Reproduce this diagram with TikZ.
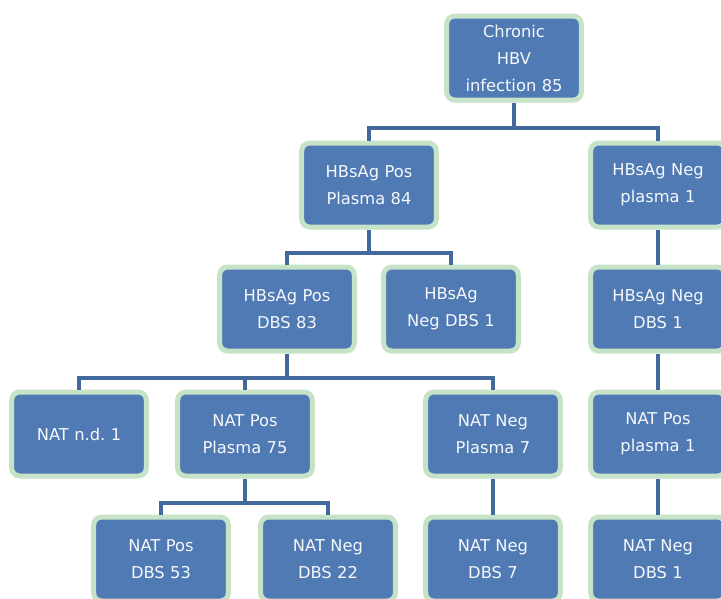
\documentclass[tikz,border=0pt]{standalone}
\usepackage{fontspec}
\setmainfont{DejaVu Sans}
\frenchspacing
\definecolor{boxblue}{HTML}{4F7AB3}
\definecolor{boxgreen}{HTML}{C6E3C8}
\definecolor{wireblue}{HTML}{41699C}
\begin{document}
\begin{tikzpicture}[
  x=1pt, y=-1pt,
  box/.style={
    draw=boxgreen,
    line width=5pt,
    fill=boxblue,
    rounded corners=8pt,
    minimum width=133pt,
    minimum height=84pt,
    text width=128pt,
    align=center,
    text=white!95!boxblue,
    font=\fontsize{16.3}{27}\selectfont
  },
  wire/.style={
    draw=wireblue,
    line width=4pt
  }
]%
\useasboundingbox (0,0) rectangle (721,598);
% level 0
\node [box] (root) at (514,58) {Chronic\\HBV\\infection 85};
% level 1
\node [box] (pos_plasma) at (369,185) {HBsAg Pos\\Plasma 84};
\node [box] (neg_plasma) at (658,185) {HBsAg Neg\\plasma 1};
% level 2
\node [box] (pos_dbs) at (287,309) {HBsAg Pos\\DBS 83};
\node [box] (neg_dbs) at (451,309) {HBsAg\\Neg DBS 1};
\node [box] (neg_dbs_r) at (658,309) {HBsAg Neg\\DBS 1};
% level 3
\node [box] (nat_nd) at (79,434) {NAT n.d. 1};
\node [box] (nat_pos) at (245,434) {NAT Pos\\Plasma 75};
\node [box] (nat_neg) at (493,434) {NAT Neg\\Plasma 7};
\node [box] (nat_pos_r) at (658,434) {NAT Pos\\plasma 1};
% level 4
\node [box] (dbs_pos) at (161,559) {NAT Pos\\DBS 53};
\node [box] (dbs_neg) at (328,559) {NAT Neg\\DBS 22};
\node [box] (dbs_neg_m) at (493,559) {NAT Neg\\DBS 7};
\node [box] (dbs_neg_r) at (658,559) {NAT Neg\\DBS 1};
% connectors
\coordinate (j_root) at (514,128);
\coordinate (j_pos) at (369,253);
\coordinate (j_dbs) at (287,378);
\coordinate (j_nat) at (245,503);
\draw [wire] (root.south) -- (j_root) -| (pos_plasma.north);
\draw [wire] (j_root) -| (neg_plasma.north);
\draw [wire] (pos_plasma.south) -- (j_pos) -| (pos_dbs.north);
\draw [wire] (j_pos) -| (neg_dbs.north);
\draw [wire] (pos_dbs.south) -- (j_dbs) -| (nat_nd.north);
\draw [wire] (j_dbs) -| (nat_pos.north);
\draw [wire] (j_dbs) -| (nat_neg.north);
\draw [wire] (nat_pos.south) -- (j_nat) -| (dbs_pos.north);
\draw [wire] (j_nat) -| (dbs_neg.north);
\draw [wire] (nat_neg.south) -- (dbs_neg_m.north);
\draw [wire] (neg_plasma.south) -- (neg_dbs_r.north);
\draw [wire] (neg_dbs_r.south) -- (nat_pos_r.north);
\draw [wire] (nat_pos_r.south) -- (dbs_neg_r.north);
\end{tikzpicture}
\end{document}
